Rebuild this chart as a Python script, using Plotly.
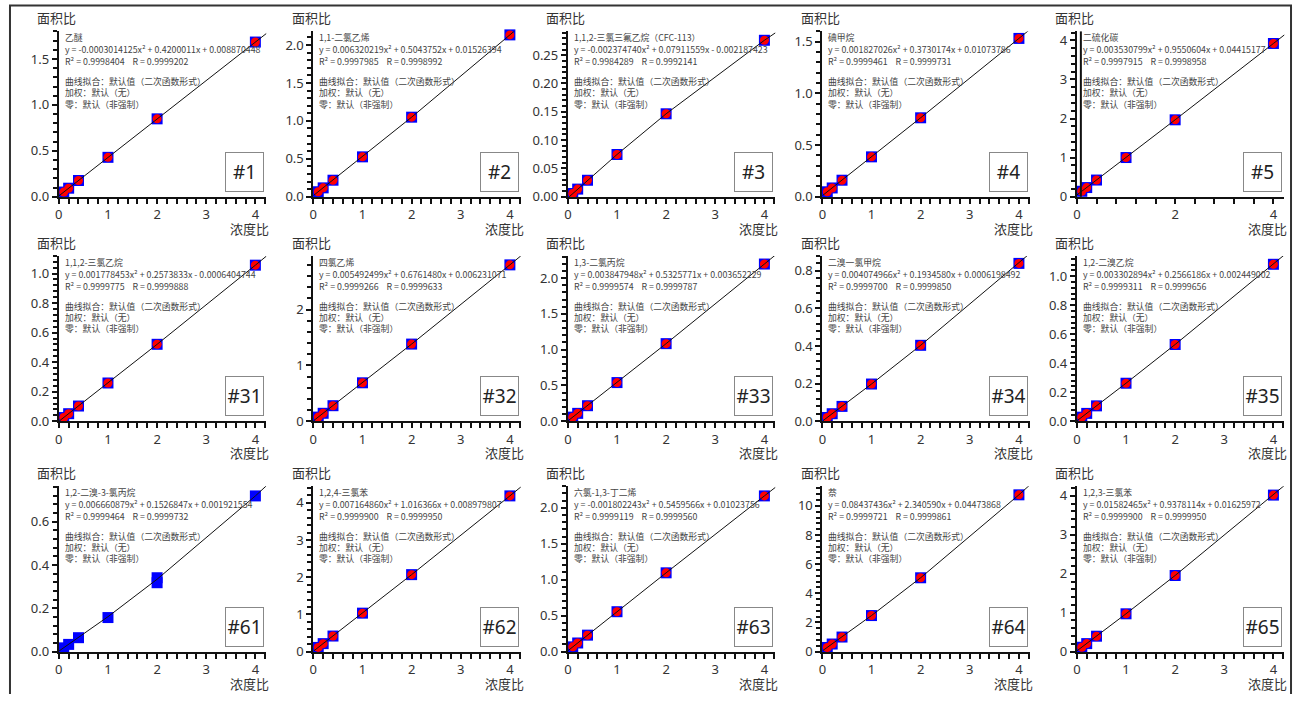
import plotly.graph_objects as go

W, H = 1297, 702

# ---------------- data ----------------
panel_ids = ["#1", "#2", "#3", "#4", "#5",
             "#31", "#32", "#33", "#34", "#35",
             "#61", "#62", "#63", "#64", "#65"]

compounds = ["乙醚", "1,1-二氯乙烯", "1,1,2-三氯三氟乙烷（CFC-113）", "碘甲烷", "二硫化碳",
             "1,1,2-三氯乙烷", "四氯乙烯", "1,3-二氯丙烷", "二溴一氯甲烷", "1,2-二溴乙烷",
             "1,2-二溴-3-氯丙烷", "1,2,4-三氯苯", "六氯-1,3-丁二烯", "萘", "1,2,3-三氯苯"]

equations = [
    "y = -0.0003014125x² + 0.4200011x + 0.008870448",
    "y = 0.006320219x² + 0.5043752x + 0.01526394",
    "y = -0.002374740x² + 0.07911559x - 0.002187423",
    "y = 0.001827026x² + 0.3730174x + 0.01073786",
    "y = 0.003530799x² + 0.9550604x + 0.04415177",
    "y = 0.001778453x² + 0.2573833x - 0.0006404744",
    "y = 0.005492499x² + 0.6761480x + 0.006231071",
    "y = 0.003847948x² + 0.5325771x + 0.003652229",
    "y = 0.004074966x² + 0.1934580x + 0.0006198492",
    "y = 0.003302894x² + 0.2566186x + 0.002449002",
    "y = 0.006660879x² + 0.1526847x + 0.001921554",
    "y = 0.007164860x² + 1.016366x + 0.008979807",
    "y = -0.001802243x² + 0.5459566x + 0.01023756",
    "y = 0.08437436x² + 2.340590x + 0.04473868",
    "y = 0.01582465x² + 0.9378114x + 0.01625972",
]

r2_values = ["0.9998404", "0.9997985", "0.9984289", "0.9999461", "0.9997915",
             "0.9999775", "0.9999266", "0.9999574", "0.9999700", "0.9999311",
             "0.9999464", "0.9999900", "0.9999119", "0.9999721", "0.9999900"]
r_values = ["0.9999202", "0.9998992", "0.9992141", "0.9999731", "0.9998958",
            "0.9999888", "0.9999633", "0.9999787", "0.9999850", "0.9999656",
            "0.9999732", "0.9999950", "0.9999560", "0.9999861", "0.9999950"]

fit_notes = ["曲线拟合：默认值（二次函数形式）", "加权：默认（无）", "零：默认（非强制）"]

conc = [0.1, 0.2, 0.4, 1.0, 2.0, 4.0]

area_01 = [0.051, 0.093, 0.177, 0.429, 0.848, 1.684]
area_02 = [0.066, 0.117, 0.218, 0.526, 1.049, 2.134]
area_03 = [0.0057, 0.0135, 0.0291, 0.0746, 0.1465, 0.2763]
area_04 = [0.048, 0.085, 0.160, 0.386, 0.764, 1.532]
area_05 = [0.140, 0.235, 0.427, 1.003, 1.968, 3.921]
area_31 = [0.025, 0.051, 0.103, 0.259, 0.521, 1.057]
area_32 = [0.074, 0.142, 0.278, 0.688, 1.381, 2.799]
area_33 = [0.057, 0.110, 0.217, 0.540, 1.084, 2.196]
area_34 = [0.020, 0.040, 0.079, 0.198, 0.404, 0.840]
area_35 = [0.028, 0.054, 0.106, 0.262, 0.529, 1.082]
area_61 = [0.017, 0.033, 0.064, 0.157, 0.341, 0.719]
area_62 = [0.111, 0.213, 0.417, 1.033, 2.070, 4.189]
area_63 = [0.065, 0.119, 0.228, 0.554, 1.095, 2.165]
area_64 = [0.280, 0.516, 0.995, 2.470, 5.063, 10.757]
area_65 = [0.110, 0.204, 0.394, 0.970, 1.955, 4.021]
area_lists = [area_01, area_02, area_03, area_04, area_05,
              area_31, area_32, area_33, area_34, area_35,
              area_61, area_62, area_63, area_64, area_65]

# replicate standard for #61 (second square at conc 2)
extra_conc_61 = [2.0]
extra_area_61 = [0.318]
show_red = [True] * 10 + [False] + [True] * 4

# calibration curves
fit_x = [0.0, 1.0, 2.0, 4.0, 4.5]
fit_01 = [0.0089, 0.429, 0.848, 1.684, 1.893]
fit_02 = [0.0153, 0.526, 1.049, 2.134, 2.413]
fit_03 = [-0.0022, 0.0746, 0.1465, 0.2763, 0.3057]
fit_04 = [0.0107, 0.386, 0.764, 1.532, 1.726]
fit_05 = [0.0442, 1.003, 1.968, 3.921, 4.414]
fit_31 = [-0.0006, 0.259, 0.521, 1.057, 1.194]
fit_32 = [0.0062, 0.688, 1.381, 2.799, 3.160]
fit_33 = [0.0037, 0.540, 1.084, 2.196, 2.478]
fit_34 = [0.0006, 0.198, 0.404, 0.840, 0.954]
fit_35 = [0.0024, 0.262, 0.529, 1.082, 1.224]
fit_61 = [0.0019, 0.161, 0.334, 0.719, 0.824]
fit_62 = [0.0090, 1.033, 2.070, 4.189, 4.728]
fit_63 = [0.0102, 0.554, 1.095, 2.165, 2.431]
fit_64 = [0.0447, 2.470, 5.063, 10.757, 12.286]
fit_65 = [0.0163, 0.970, 1.955, 4.021, 4.557]
fit_lists = [fit_01, fit_02, fit_03, fit_04, fit_05,
             fit_31, fit_32, fit_33, fit_34, fit_35,
             fit_61, fit_62, fit_63, fit_64, fit_65]

# y-axis settings per panel
y_top = [1.80, 2.18, 0.292, 1.60, 4.23,
         1.12, 2.96, 2.31, 0.88, 1.14,
         0.764, 4.45, 2.30, 11.35, 4.25]
y_dtick = [0.5, 0.5, 0.05, 0.5, 1, 0.2, 1, 0.5, 0.2, 0.2, 0.2, 1, 0.5, 2, 1]
y_minor = [0.1, 0.1, 0.01, 0.1, 0.2, 0.04, 0.2, 0.1, 0.04, 0.04, 0.04, 0.2, 0.1, 0.4, 0.2]
y_fmt = [".1f", ".1f", ".2f", ".1f", "d", ".1f", "d", ".1f", ".1f", ".1f", ".1f", "d", ".1f", "d", "d"]
x_dtick = [1, 1, 1, 1, 2, 1, 1, 1, 1, 1, 1, 1, 1, 1, 1]
x_minor = [0.2, 0.2, 0.2, 0.2, 0.4, 0.2, 0.2, 0.2, 0.2, 0.2, 0.2, 0.2, 0.2, 0.2, 0.2]

# ---------------- layout geometry (pixels) ----------------
COL_X0 = [55, 310.3, 565.6, 820.9, 1076.2]
ROW_YB = [199.3, 426.7, 660.0]
PLOT_W = 208
PLOT_H = 167.5
X_MAX = 4.22

CJK = "Noto Sans CJK SC"
TXT = "#444444"
INFO_SIZE = 8.8


def px(x):
    return x / W


def py(y):
    return 1 - y / H


fig = go.Figure()
annotations = []
shapes = []
layout = {}

for i in range(15):
    r, c = divmod(i, 5)
    n = i + 1
    xa = "x" if n == 1 else f"x{n}"
    ya = "y" if n == 1 else f"y{n}"
    x0 = COL_X0[c]
    yb = ROW_YB[r]
    yt = yb - PLOT_H

    layout["xaxis" if n == 1 else f"xaxis{n}"] = dict(
        domain=[px(x0), px(x0 + PLOT_W)], anchor=ya, range=[0, X_MAX],
        showline=True, linecolor="#111111", linewidth=2, showgrid=False, zeroline=False,
        ticks="outside", ticklen=5, tickwidth=2, tickcolor="#111111",
        tick0=0, dtick=x_dtick[i],
        minor=dict(tick0=0, dtick=x_minor[i], ticks="outside", ticklen=5, tickwidth=2,
                   tickcolor="#111111", showgrid=False),
        tickfont=dict(family="Noto Sans", size=13, color="#333333"),
        fixedrange=True,
    )
    layout["yaxis" if n == 1 else f"yaxis{n}"] = dict(
        domain=[py(yb), py(yt)], anchor=xa, range=[0, y_top[i]],
        showline=True, linecolor="#111111", linewidth=2, showgrid=False, zeroline=False,
        ticks="outside", ticklen=5, tickwidth=2, tickcolor="#111111",
        tick0=0, dtick=y_dtick[i], tickformat=y_fmt[i],
        minor=dict(tick0=0, dtick=y_minor[i], ticks="outside", ticklen=4, tickwidth=2,
                   tickcolor="#111111", showgrid=False),
        tickfont=dict(family="Noto Sans", size=13, color="#333333"),
        fixedrange=True,
    )

    sx = list(conc)
    sy = list(area_lists[i])
    if panel_ids[i] == "#61":
        sx += extra_conc_61
        sy += extra_area_61
    fig.add_trace(go.Scatter(x=sx, y=sy, mode="markers", xaxis=xa, yaxis=ya,
                             marker=dict(symbol="square", size=11, color="#0000ff", line=dict(width=0)),
                             cliponaxis=False, showlegend=False, hoverinfo="skip"))
    if show_red[i]:
        fig.add_trace(go.Scatter(x=conc, y=area_lists[i], mode="markers", xaxis=xa, yaxis=ya,
                                 marker=dict(symbol="circle", size=9, color="#ff0000", line=dict(width=0)),
                                 cliponaxis=False, showlegend=False, hoverinfo="skip"))
    fig.add_trace(go.Scatter(x=fit_x, y=fit_lists[i], mode="lines", xaxis=xa, yaxis=ya,
                             line=dict(color="#111111", width=1), showlegend=False, hoverinfo="skip"))

    # axis titles
    annotations.append(dict(text="面积比", x=px(x0 - 2), y=py(yt - 14), xref="paper", yref="paper",
                            xanchor="center", yanchor="middle", showarrow=False,
                            font=dict(family=CJK, size=13, color="#333333")))
    annotations.append(dict(text="浓度比", x=px(x0 + 213), y=py(yb + 32), xref="paper", yref="paper",
                            xanchor="right", yanchor="middle", showarrow=False,
                            font=dict(family=CJK, size=13, color="#333333")))
    # id box
    annotations.append(dict(text=panel_ids[i], x=px(x0 + 206), y=py(yb - 5), xref="paper", yref="paper",
                            xanchor="right", yanchor="bottom", showarrow=False,
                            width=37, height=38, borderwidth=1, bordercolor="#888888", borderpad=0,
                            bgcolor="white",
                            font=dict(family="Noto Sans", size=19, color="#222222")))
    # info text
    lines = [compounds[i], equations[i],
             "R² = " + r2_values[i] + "\u00a0\u00a0\u00a0\u00a0R = " + r_values[i]] + fit_notes
    offs = [6.5, 18.7, 31.0, 51.0, 62.3, 73.6]
    for t, o in zip(lines, offs):
        annotations.append(dict(text=t, x=px(x0 + 4), y=py(yt + o), xref="paper", yref="paper",
                                xanchor="left", yanchor="middle", showarrow=False,
                                font=dict(family=CJK, size=INFO_SIZE, color=TXT)))

    if panel_ids[i] == "#5":
        shapes.append(dict(type="line", xref="paper", yref="paper",
                           x0=px(x0 + 4), x1=px(x0 + 4), y0=py(yb), y1=py(yt),
                           line=dict(color="#111111", width=2)))

# outer frame (left, top and right edges; the bottom edge lies below the page)
shapes.append(dict(type="path", xref="paper", yref="paper",
                   path=f"M {px(6)},{py(703)} L {px(6)},{py(5.5)} L {px(1291)},{py(5.5)} L {px(1291)},{py(703)}",
                   line=dict(color="#333333", width=2), fillcolor="rgba(0,0,0,0)"))

fig.update_layout(**layout)
fig.update_layout(
    width=W, height=H, autosize=False,
    margin=dict(l=0, r=0, t=0, b=0),
    paper_bgcolor="white", plot_bgcolor="white",
    annotations=annotations, shapes=shapes,
    showlegend=False,
)

fig.write_html("out.html", config={"displayModeBar": False},
               post_script="document.body.style.margin='0';document.body.style.overflow='hidden';")
